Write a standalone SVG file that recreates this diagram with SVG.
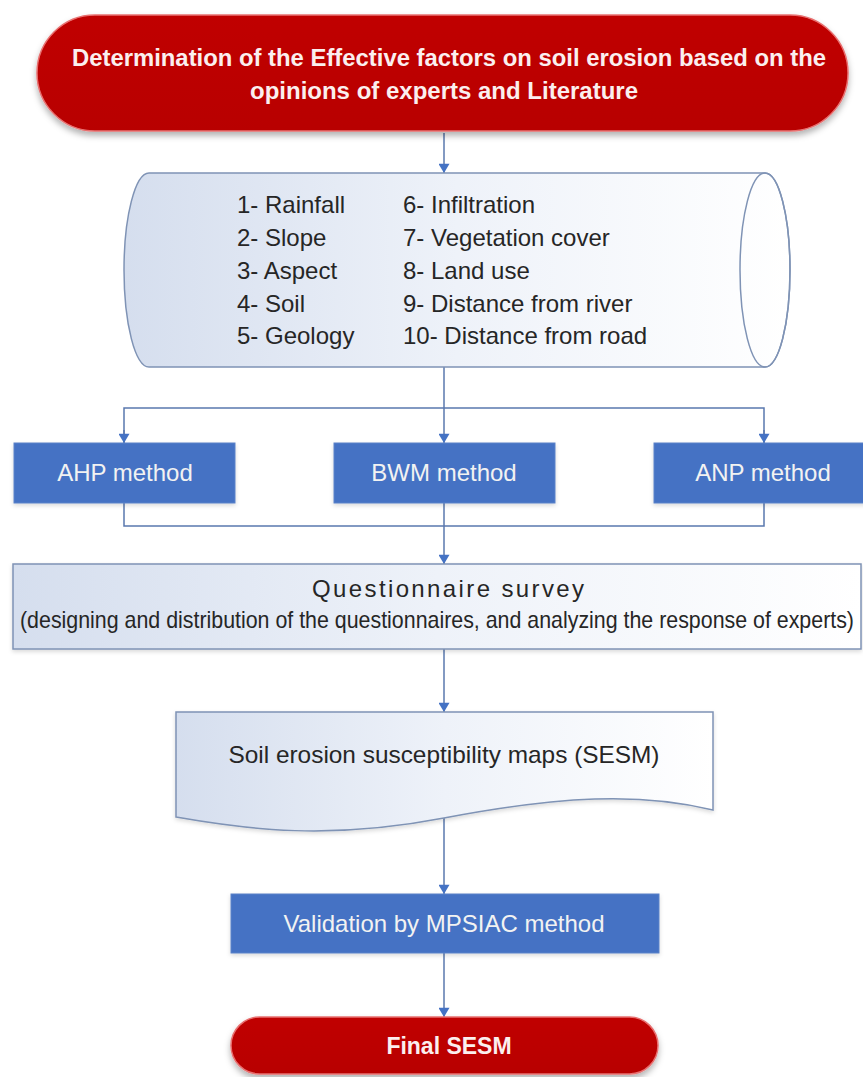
<svg xmlns="http://www.w3.org/2000/svg" width="863" height="1077" viewBox="0 0 863 1077">
  <defs>
    <linearGradient id="lightFill" x1="0" y1="0" x2="1" y2="0">
      <stop offset="0" stop-color="#D5DEEE"/>
      <stop offset="0.5" stop-color="#EEF2F9"/>
      <stop offset="1" stop-color="#FFFFFF"/>
    </linearGradient>
    <linearGradient id="redFill" x1="0" y1="0" x2="0" y2="1">
      <stop offset="0" stop-color="#C00000"/>
      <stop offset="1" stop-color="#B80000"/>
    </linearGradient>
    <filter id="shadow" x="-5%" y="-20%" width="110%" height="150%">
      <feDropShadow dx="0" dy="4" stdDeviation="3" flood-color="#000000" flood-opacity="0.3"/>
    </filter>
    <filter id="softShadow" x="-5%" y="-20%" width="110%" height="150%">
      <feDropShadow dx="0" dy="2" stdDeviation="2" flood-color="#000000" flood-opacity="0.15"/>
    </filter>
    <marker id="arrow" viewBox="0 0 10 12" refX="10" refY="6" markerWidth="12" markerHeight="11" markerUnits="userSpaceOnUse" orient="auto">
      <path d="M0,0 L10,6 L0,12 Z" fill="#4472C4"/>
    </marker>
  </defs>
  <style>
    .conn { fill: none; stroke: #5A78AE; stroke-width: 1.5; }
    .red { fill: url(#redFill); stroke: #E87070; stroke-width: 1.5; filter: url(#shadow); }
    .redText { font-family: "Liberation Sans", Arial, sans-serif; font-weight: bold; fill: #FBEFEF; text-anchor: middle; }
    .blue { fill: #4472C4; stroke: #5B82C8; stroke-width: 1; filter: url(#softShadow); }
    .blueText { font-family: "Liberation Sans", Arial, sans-serif; font-size: 24px; fill: #F2F2F2; text-anchor: middle; }
    .light { fill: url(#lightFill); stroke: #7F93B5; stroke-width: 1.5; filter: url(#softShadow); }
    .darkText { font-family: "Liberation Sans", Arial, sans-serif; font-size: 24px; fill: #262626; }
  </style>

  <g id="connectors">
    <line class="conn" x1="444" y1="133" x2="444" y2="173" marker-end="url(#arrow)"/>
    <line class="conn" x1="444" y1="367" x2="444" y2="443" marker-end="url(#arrow)"/>
    <polyline class="conn" points="124,443 124,408 764,408 764,443"/>
    <line class="conn" x1="124" y1="430" x2="124" y2="443" marker-end="url(#arrow)"/>
    <line class="conn" x1="764" y1="430" x2="764" y2="443" marker-end="url(#arrow)"/>
    <polyline class="conn" points="124,503 124,526 764,526 764,503"/>
    <line class="conn" x1="444" y1="503" x2="444" y2="564" marker-end="url(#arrow)"/>
    <line class="conn" x1="444" y1="649" x2="444" y2="712" marker-end="url(#arrow)"/>
    <line class="conn" x1="444" y1="818" x2="444" y2="894" marker-end="url(#arrow)"/>
    <line class="conn" x1="444" y1="953" x2="444" y2="1017" marker-end="url(#arrow)"/>
  </g>

  <g id="start">
    <rect class="red" x="37" y="15" width="811" height="116" rx="58" ry="58"/>
    <text class="redText" x="449" y="66" font-size="23" textLength="754" lengthAdjust="spacingAndGlyphs">Determination of the Effective factors on soil erosion based on the</text>
    <text class="redText" x="444" y="99" font-size="23" textLength="388" lengthAdjust="spacingAndGlyphs">opinions of experts and Literature</text>
  </g>

  <g id="factors">
    <path d="M149,173 L765,173 A25,97 0 0 1 765,367 L149,367 A25,97 0 0 1 149,173 Z" fill="url(#lightFill)" stroke="#7F93B5" stroke-width="1.5"/>
    <ellipse cx="765" cy="270" rx="25" ry="97" fill="none" stroke="#7F93B5" stroke-width="1.5"/>
    <text class="darkText" x="237" y="213">1- Rainfall</text>
    <text class="darkText" x="237" y="246">2- Slope</text>
    <text class="darkText" x="237" y="279">3- Aspect</text>
    <text class="darkText" x="237" y="312">4- Soil</text>
    <text class="darkText" x="237" y="344">5- Geology</text>
    <text class="darkText" x="403" y="213">6- Infiltration</text>
    <text class="darkText" x="403" y="246">7- Vegetation cover</text>
    <text class="darkText" x="403" y="279">8- Land use</text>
    <text class="darkText" x="403" y="312">9- Distance from river</text>
    <text class="darkText" x="403" y="344">10- Distance from road</text>
  </g>

  <g id="ahp">
    <rect class="blue" x="14" y="443" width="221" height="60"/>
    <text class="blueText" x="125" y="481">AHP method</text>
  </g>
  <g id="bwm">
    <rect class="blue" x="334" y="443" width="221" height="60"/>
    <text class="blueText" x="444" y="481">BWM method</text>
  </g>
  <g id="anp">
    <rect class="blue" x="654" y="443" width="221" height="60"/>
    <text class="blueText" x="763" y="481">ANP method</text>
  </g>

  <g id="questionnaire">
    <rect class="light" x="13" y="564" width="848" height="85"/>
    <text class="darkText" x="448" y="597" font-size="23" text-anchor="middle" textLength="272" lengthAdjust="spacing">Questionnaire survey</text>
    <text class="darkText" x="20" y="628" font-size="15.8" textLength="834" lengthAdjust="spacingAndGlyphs">(designing and distribution of the questionnaires, and analyzing the response of experts)</text>
  </g>

  <g id="sesm">
    <path class="light" d="M176,712 H713 V810 C640,792 560,796 444,818 C330,840 250,830 176,817 Z"/>
    <text class="darkText" x="444" y="763" text-anchor="middle" textLength="431" lengthAdjust="spacingAndGlyphs">Soil erosion susceptibility maps (SESM)</text>
  </g>

  <g id="validation">
    <rect class="blue" x="231" y="894" width="428" height="59"/>
    <text class="blueText" x="444" y="932">Validation by MPSIAC method</text>
  </g>

  <g id="final">
    <rect class="red" x="231" y="1017" width="427" height="57" rx="28.5" ry="28.5"/>
    <text class="redText" x="449" y="1054" font-size="23">Final SESM</text>
  </g>
</svg>
